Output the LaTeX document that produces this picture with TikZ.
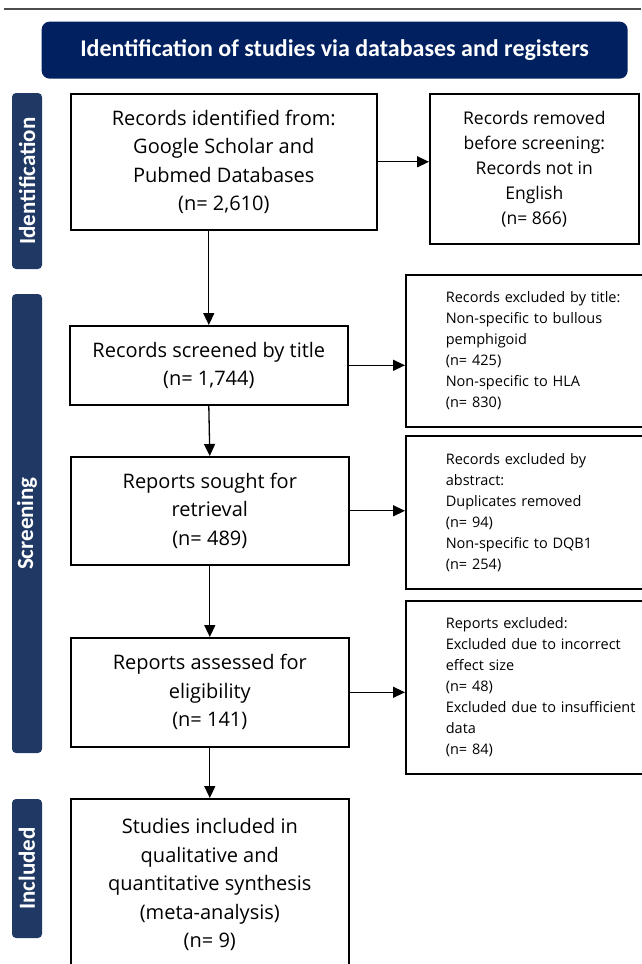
\documentclass[tikz,border=0pt]{standalone}
\usepackage{fontspec}
\setmainfont{Open Sans}
\newfontfamily\headfont{Carlito}
\usetikzlibrary{arrows.meta,positioning}
\definecolor{headblue}{RGB}{0,32,96}
\definecolor{barblue}{RGB}{31,56,100}

\begin{document}
\begin{tikzpicture}[x=1pt,y=-1pt,->,>={Triangle[length=12pt,width=11pt]},
        line width=1.3pt,
        flow box/.style={draw,line width=1.6pt,anchor=north west,align=center,
            inner sep=0pt,font=\fontsize{20}{28.5}\selectfont},
        excl box/.style={draw,line width=1.6pt,anchor=north west,align=left,
            inner xsep=40pt,inner ysep=0pt,text width=196pt,
            font=\fontsize{14.5}{21}\selectfont},
        phase bar/.style={fill=barblue,text=white,rotate=90,rounded corners=4pt,
            minimum height=30pt,inner sep=0pt,
            font=\headfont\bfseries\fontsize{23}{25}\selectfont}]

        \useasboundingbox (0,0) rectangle (641,964);

        % Top rule and header
        \draw[-,line width=1.5pt,black!70] (4,9) -- (641,9);
        \node[fill=headblue,rounded corners=8pt,anchor=north west,minimum width=586pt,
            minimum height=57pt,text=white,font=\headfont\bfseries\fontsize{24}{28}\selectfont]
            (head) at (41,21) {Identification of studies via databases and registers};

        % Phase bars
        \node[phase bar,minimum width=176pt] (idbar) at (27,181) {Identification};
        \node[phase bar,minimum width=459pt] (scbar) at (27,523.5) {Screening};
        \node[phase bar,minimum width=139pt] (inbar) at (27,868.5) {Included};

        % Define boxes
        \node[flow box,minimum width=306pt,minimum height=136pt] (ident) at (70,93)
            {Records identified from:\\Google Scholar and\\Pubmed Databases\\(n= 2,610)};
        \node[flow box,minimum width=209pt,minimum height=150pt,font=\fontsize{17.5}{25}\selectfont]
            (removed) at (429,93)
            {Records removed\\before screening:\\Records not in\\English\\(n= 866)};
        \node[flow box,minimum width=278pt,minimum height=79pt] (screen) at (69,325)
            {Records screened by title\\(n= 1,744)};
        \node[excl box,minimum height=152pt] (extitle) at (405,274)
            {Records excluded by title:\\Non-specific to bullous\\pemphigoid\\(n= 425)\\Non-specific to HLA\\(n= 830)};
        \node[flow box,minimum width=278pt,minimum height=108pt] (sought) at (70,456)
            {Reports sought for\\retrieval\\(n= 489)};
        \node[excl box,minimum height=153pt] (exabs) at (405,435)
            {Records excluded by\\abstract:\\Duplicates removed\\(n= 94)\\Non-specific to DQB1\\(n= 254)};
        \node[flow box,minimum width=278pt,minimum height=109pt] (assess) at (70,637)
            {Reports assessed for\\eligibility\\(n= 141)};
        \node[excl box,minimum height=173pt] (exrep) at (405,600)
            {Reports excluded:\\Excluded due to incorrect\\effect size\\(n= 48)\\Excluded due to insufficient\\data\\(n= 84)};
        \node[flow box,minimum width=278pt,minimum height=172pt] (incl) at (70,798)
            {Studies included in\\qualitative and\\quantitative synthesis\\(meta-analysis)\\(n= 9)};

        % Draw edges
        \draw (ident.east) -- (ident.east -| removed.west);
        \draw (ident.south -| screen.north) -- (screen.north);
        \draw (screen.east) -- (screen.east -| extitle.west);
        \draw (screen.south) -- (sought.north);
        \draw (sought.east) -- (sought.east -| exabs.west);
        \draw (sought.south) -- (assess.north);
        \draw (assess.east) -- (assess.east -| exrep.west);
        \draw (assess.south) -- (incl.north);

\end{tikzpicture}
\end{document}
